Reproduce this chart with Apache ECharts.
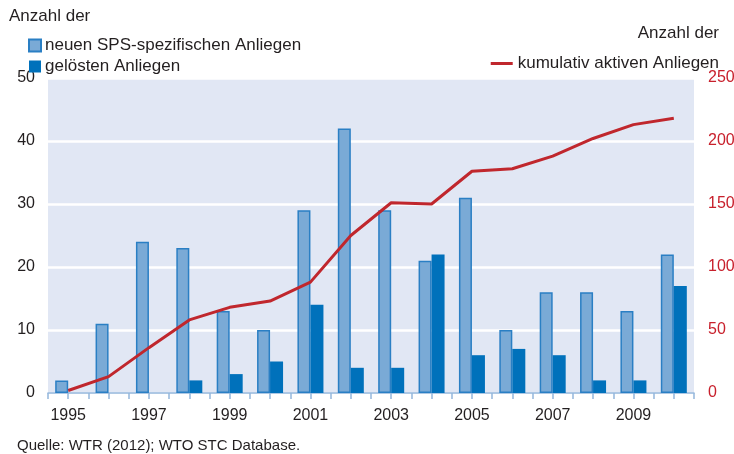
<!DOCTYPE html>
<html>
<head>
<meta charset="utf-8">
<script src="https://cdn.jsdelivr.net/npm/echarts@6/dist/echarts.min.js"></script>
<style>
  html, body { margin: 0; padding: 0; background: #fff; }
  #chart { width: 734px; height: 454px; }
</style>
</head>
<body>
<div id="chart"></div>
<script>
var years = ['1995', '1996', '1997', '1998', '1999', '2000', '2001', '2002',
             '2003', '2004', '2005', '2006', '2007', '2008', '2009', '2010'];
var neueAnliegen = [2, 11, 24, 23, 13, 10, 29, 42, 29, 21, 31, 10, 16, 16, 13, 22];
var geloesteAnliegen = [0, 0, 0, 2, 3, 5, 14, 4, 4, 22, 6, 7, 6, 2, 2, 17];
var kumulativAktiv = [2, 13, 36, 58, 68, 73, 88, 125, 151, 150, 176, 178, 188, 202, 213, 218];
var leftTicks = [0, 10, 20, 30, 40, 50];
var rightTicks = [0, 50, 100, 150, 200, 250];

// half-category ticks along the bottom
var halfTicks = [];
for (var i = 0; i < years.length * 2; i++) halfTicks.push('');

var fontFam = '"Liberation Sans", Arial, sans-serif';
var textCol = '#231f20';

var myChart = echarts.init(document.getElementById('chart'));

var option = {
    animation: false,
    textStyle: { fontFamily: fontFam },
    grid: {
        left: 48, right: 40, top: 78, bottom: 61,
        outerBoundsMode: 'none', containLabel: false,
        show: true, backgroundColor: '#e1e7f4', borderWidth: 0
    },
    legend: [
        {
            orient: 'vertical', left: 23, top: 32, itemGap: 4,
            itemWidth: 12, itemHeight: 12, icon: 'rect',
            textStyle: { fontSize: 17, color: textCol, padding: [0, 0, 0, -1] },
            data: ['neuen SPS-spezifischen Anliegen', 'gelösten Anliegen']
        },
        {
            orient: 'vertical', right: 10, top: 50,
            itemWidth: 22, itemHeight: 3, icon: 'rect',
            textStyle: { fontSize: 17, color: textCol, padding: [0, 0, 0, 0] },
            data: ['kumulativ aktiven Anliegen']
        }
    ],
    graphic: [
        { type: 'text', left: 9, top: 8, style: { text: 'Anzahl der', fontSize: 17, fill: textCol, fontFamily: fontFam } },
        { type: 'text', right: 15, top: 25, style: { text: 'Anzahl der', fontSize: 17, fill: textCol, fontFamily: fontFam } },
        { type: 'text', left: 17, top: 438, style: { text: 'Quelle: WTR (2012); WTO STC Database.', fontSize: 15, fill: textCol, fontFamily: fontFam } }
    ],
    xAxis: [
        {
            type: 'category', data: years,
            axisLine: { show: true, lineStyle: { color: '#94b6dc', width: 1.5 } },
            axisTick: { show: false },
            axisLabel: { interval: 1, fontSize: 16, color: textCol, margin: 15 }
        },
        {
            type: 'category', data: halfTicks, position: 'bottom',
            axisLine: { show: false },
            axisTick: { show: true, interval: 0, length: 6, lineStyle: { color: '#94b6dc', width: 1.5 } },
            axisLabel: { show: false }
        }
    ],
    yAxis: [
        {
            type: 'value', min: leftTicks[0], max: leftTicks[leftTicks.length - 1], interval: 10,
            axisLine: { show: false }, axisTick: { show: false },
            axisLabel: { fontSize: 16, color: textCol, margin: 13 },
            splitLine: { show: true, lineStyle: { color: '#ffffff', width: 2.5 } }
        },
        {
            type: 'value', min: rightTicks[0], max: rightTicks[rightTicks.length - 1], interval: 50,
            axisLine: { show: false }, axisTick: { show: false },
            axisLabel: { fontSize: 16, color: '#c8202c', margin: 14 },
            splitLine: { show: false }
        }
    ],
    series: [
        {
            name: 'neuen SPS-spezifischen Anliegen', type: 'bar', xAxisIndex: 0, yAxisIndex: 0,
            data: neueAnliegen, barGap: '0%', barWidth: 13,
            itemStyle: { color: '#7aaad6', borderColor: '#2a7fc4', borderWidth: 1.5 }
        },
        {
            name: 'gelösten Anliegen', type: 'bar', xAxisIndex: 0, yAxisIndex: 0,
            data: geloesteAnliegen, barGap: '0%', barWidth: 13,
            itemStyle: { color: '#0071bb' }
        },
        {
            name: 'kumulativ aktiven Anliegen', type: 'line', xAxisIndex: 0, yAxisIndex: 1,
            data: kumulativAktiv, symbol: 'none',
            lineStyle: { color: '#c0272d', width: 3 },
            itemStyle: { color: '#c0272d' }
        }
    ]
};

myChart.setOption(option);
</script>
</body>
</html>
